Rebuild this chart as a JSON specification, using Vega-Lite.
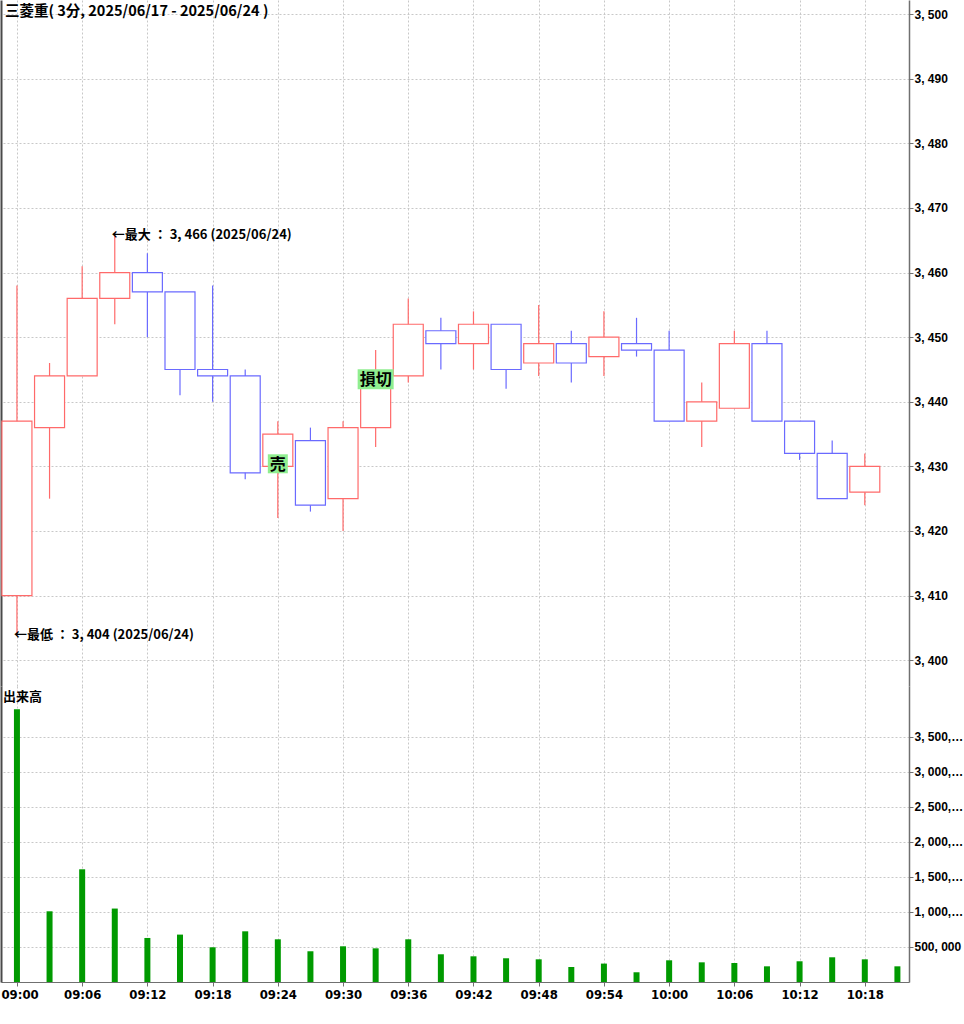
{
  "$schema": "https://vega.github.io/schema/vega-lite/v6.json",
  "padding": 0,
  "spacing": 0,
  "background": "white",
  "config": {
    "view": {"stroke": null},
    "concat": {"spacing": 0},
    "axis": {
      "gridColor": "#c8c8c8",
      "gridDash": [2, 2],
      "gridWidth": 1,
      "domainColor": "#707070",
      "tickColor": "#707070",
      "labelColor": "#000000",
      "labelFontWeight": "bold"
    }
  },
  "datasets": {
    "candles": [
      {"t": "2025-06-24T09:00", "open": 3410, "high": 3458, "low": 3404, "close": 3437},
      {"t": "2025-06-24T09:03", "open": 3436, "high": 3446, "low": 3425, "close": 3444},
      {"t": "2025-06-24T09:06", "open": 3444, "high": 3461, "low": 3444, "close": 3456},
      {"t": "2025-06-24T09:09", "open": 3456, "high": 3466, "low": 3452, "close": 3460},
      {"t": "2025-06-24T09:12", "open": 3460, "high": 3463, "low": 3450, "close": 3457},
      {"t": "2025-06-24T09:15", "open": 3457, "high": 3457, "low": 3441, "close": 3445},
      {"t": "2025-06-24T09:18", "open": 3445, "high": 3458, "low": 3440, "close": 3444},
      {"t": "2025-06-24T09:21", "open": 3444, "high": 3445, "low": 3428, "close": 3429},
      {"t": "2025-06-24T09:24", "open": 3430, "high": 3437, "low": 3422, "close": 3435},
      {"t": "2025-06-24T09:27", "open": 3434, "high": 3436, "low": 3423, "close": 3424},
      {"t": "2025-06-24T09:30", "open": 3425, "high": 3437, "low": 3420, "close": 3436},
      {"t": "2025-06-24T09:33", "open": 3436, "high": 3448, "low": 3433, "close": 3444},
      {"t": "2025-06-24T09:36", "open": 3444, "high": 3456, "low": 3443, "close": 3452},
      {"t": "2025-06-24T09:39", "open": 3451, "high": 3453, "low": 3445, "close": 3449},
      {"t": "2025-06-24T09:42", "open": 3449, "high": 3454, "low": 3445, "close": 3452},
      {"t": "2025-06-24T09:45", "open": 3452, "high": 3452, "low": 3442, "close": 3445},
      {"t": "2025-06-24T09:48", "open": 3446, "high": 3455, "low": 3444, "close": 3449},
      {"t": "2025-06-24T09:51", "open": 3449, "high": 3451, "low": 3443, "close": 3446},
      {"t": "2025-06-24T09:54", "open": 3447, "high": 3454, "low": 3444, "close": 3450},
      {"t": "2025-06-24T09:57", "open": 3449, "high": 3453, "low": 3447, "close": 3448},
      {"t": "2025-06-24T10:00", "open": 3448, "high": 3451, "low": 3437, "close": 3437},
      {"t": "2025-06-24T10:03", "open": 3437, "high": 3443, "low": 3433, "close": 3440},
      {"t": "2025-06-24T10:06", "open": 3439, "high": 3451, "low": 3439, "close": 3449},
      {"t": "2025-06-24T10:09", "open": 3449, "high": 3451, "low": 3437, "close": 3437},
      {"t": "2025-06-24T10:12", "open": 3437, "high": 3437, "low": 3431, "close": 3432},
      {"t": "2025-06-24T10:15", "open": 3432, "high": 3434, "low": 3425, "close": 3425},
      {"t": "2025-06-24T10:18", "open": 3426, "high": 3432, "low": 3424, "close": 3430}
    ],
    "volume": [
      {"t": "2025-06-24T09:00", "volume": 3896000},
      {"t": "2025-06-24T09:03", "volume": 1010000},
      {"t": "2025-06-24T09:06", "volume": 1610000},
      {"t": "2025-06-24T09:09", "volume": 1049000},
      {"t": "2025-06-24T09:12", "volume": 629000},
      {"t": "2025-06-24T09:15", "volume": 677000},
      {"t": "2025-06-24T09:18", "volume": 496000},
      {"t": "2025-06-24T09:21", "volume": 724000},
      {"t": "2025-06-24T09:24", "volume": 610000},
      {"t": "2025-06-24T09:27", "volume": 439000},
      {"t": "2025-06-24T09:30", "volume": 510000},
      {"t": "2025-06-24T09:33", "volume": 481000},
      {"t": "2025-06-24T09:36", "volume": 610000},
      {"t": "2025-06-24T09:39", "volume": 396000},
      {"t": "2025-06-24T09:42", "volume": 367000},
      {"t": "2025-06-24T09:45", "volume": 339000},
      {"t": "2025-06-24T09:48", "volume": 324000},
      {"t": "2025-06-24T09:51", "volume": 214000},
      {"t": "2025-06-24T09:54", "volume": 263000},
      {"t": "2025-06-24T09:57", "volume": 139000},
      {"t": "2025-06-24T10:00", "volume": 310000},
      {"t": "2025-06-24T10:03", "volume": 281000},
      {"t": "2025-06-24T10:06", "volume": 271000},
      {"t": "2025-06-24T10:09", "volume": 224000},
      {"t": "2025-06-24T10:12", "volume": 296000},
      {"t": "2025-06-24T10:15", "volume": 353000},
      {"t": "2025-06-24T10:18", "volume": 324000},
      {"t": "2025-06-24T10:21", "volume": 224000}
    ],
    "notes": [
      {"t": "2025-06-24T09:09", "price": 3466, "label": "←最大 ： 3, 466 (2025/06/24)"},
      {"t": "2025-06-24T09:00", "price": 3404, "label": "←最低 ： 3, 404 (2025/06/24)"}
    ],
    "signals": [
      {"t": "2025-06-24T09:24", "price": 3430.4, "label": "売"},
      {"t": "2025-06-24T09:33", "price": 3443.5, "label": "損切"}
    ],
    "titles": [
      {"t": "2025-06-24T08:58:54", "price": 3500.4, "label": "三菱重( 3分, 2025/06/17 - 2025/06/24 )"}
    ],
    "voltitle": [
      {"t": "2025-06-24T08:58:43", "volume": 4067000, "label": "出来高"}
    ]
  },
  "resolve": {"scale": {"x": "independent", "y": "independent"}},
  "vconcat": [
    {
      "width": 908,
      "height": 686,
      "layer": [
        {
          "data": {"name": "candles"},
          "mark": {"type": "rule", "strokeWidth": 1.2},
          "encoding": {
            "x": {
              "field": "t", "type": "temporal",
              "scale": {"domain": [
                {"year": 2025, "month": 6, "date": 24, "hours": 8, "minutes": 58, "seconds": 32},
                {"year": 2025, "month": 6, "date": 24, "hours": 10, "minutes": 22, "seconds": 4}
              ], "padding": 0, "nice": false},
              "axis": {"grid": true, "labels": false, "ticks": false, "domain": false, "title": null,
                       "values": [
                         {"year": 2025, "month": 6, "date": 24, "hours": 9, "minutes": 0},
                         {"year": 2025, "month": 6, "date": 24, "hours": 9, "minutes": 6},
                         {"year": 2025, "month": 6, "date": 24, "hours": 9, "minutes": 12},
                         {"year": 2025, "month": 6, "date": 24, "hours": 9, "minutes": 18},
                         {"year": 2025, "month": 6, "date": 24, "hours": 9, "minutes": 24},
                         {"year": 2025, "month": 6, "date": 24, "hours": 9, "minutes": 30},
                         {"year": 2025, "month": 6, "date": 24, "hours": 9, "minutes": 36},
                         {"year": 2025, "month": 6, "date": 24, "hours": 9, "minutes": 42},
                         {"year": 2025, "month": 6, "date": 24, "hours": 9, "minutes": 48},
                         {"year": 2025, "month": 6, "date": 24, "hours": 9, "minutes": 54},
                         {"year": 2025, "month": 6, "date": 24, "hours": 10, "minutes": 0},
                         {"year": 2025, "month": 6, "date": 24, "hours": 10, "minutes": 6},
                         {"year": 2025, "month": 6, "date": 24, "hours": 10, "minutes": 12},
                         {"year": 2025, "month": 6, "date": 24, "hours": 10, "minutes": 18}
                       ]}
            },
            "y": {
              "field": "low", "type": "quantitative",
              "scale": {"domain": [3396, 3502.2], "nice": false, "zero": false},
              "axis": {"orient": "right", "title": null,
                       "values": [3400, 3410, 3420, 3430, 3440, 3450, 3460, 3470, 3480, 3490, 3500],
                       "labelExpr": "replace(format(datum.value, ','), ',', ', ')",
                       "labelFont": "Liberation Sans", "labelFontSize": 12, "labelPadding": 1,
                       "tickSize": 4, "domainWidth": 1.5, "grid": true}
            },
            "y2": {"field": "high"},
            "color": {"condition": {"test": "datum.close >= datum.open", "value": "#ff6a6a"}, "value": "#6a6aff"}
          }
        },
        {
          "data": {"name": "candles"},
          "mark": {"type": "bar", "size": 30, "fill": "white", "strokeWidth": 1.2},
          "encoding": {
            "x": {"field": "t", "type": "temporal"},
            "y": {"field": "open", "type": "quantitative", "axis": null},
            "y2": {"field": "close"},
            "stroke": {"condition": {"test": "datum.close >= datum.open", "value": "#ff6a6a"}, "value": "#6a6aff"}
          }
        },
        {
          "data": {"name": "notes"},
          "mark": {"type": "text", "align": "left", "baseline": "middle", "dx": -3, "dy": 1,
                   "font": "Noto Sans CJK JP", "fontSize": 13, "fontWeight": "bold", "color": "#000000"},
          "encoding": {
            "x": {"field": "t", "type": "temporal"},
            "y": {"field": "price", "type": "quantitative",
                  "axis": {"orient": "left", "labels": false, "ticks": false, "grid": false, "title": null,
                           "domain": true, "domainColor": "#4a4a4a", "domainWidth": 2}},
            "text": {"field": "label"}
          }
        },
        {
          "data": {"name": "signals"},
          "mark": {"type": "point", "filled": true, "fill": "#90ee90", "opacity": 1, "strokeWidth": 0},
          "encoding": {
            "x": {"field": "t", "type": "temporal"},
            "y": {"field": "price", "type": "quantitative", "axis": null},
            "shape": {"field": "label", "type": "nominal", "legend": null,
                      "scale": {"domain": ["売", "損切"],
                                "range": ["M-1,-0.95L1,-0.95L1,0.95L-1,0.95Z", "M-1,-0.556L1,-0.556L1,0.556L-1,0.556Z"]}},
            "size": {"field": "label", "type": "ordinal", "legend": null,
                     "scale": {"domain": ["売", "損切"], "range": [400, 1296]}}
          }
        },
        {
          "data": {"name": "signals"},
          "mark": {"type": "text", "align": "center", "baseline": "middle", "dy": 1,
                   "font": "Noto Sans CJK JP", "fontSize": 16, "fontWeight": "bold", "color": "#000000"},
          "encoding": {
            "x": {"field": "t", "type": "temporal"},
            "y": {"field": "price", "type": "quantitative", "axis": null},
            "text": {"field": "label"}
          }
        },
        {
          "data": {"name": "titles"},
          "mark": {"type": "text", "align": "left", "baseline": "middle",
                   "font": "Noto Sans CJK JP", "fontSize": 14.5, "fontWeight": "bold", "color": "#000000"},
          "encoding": {
            "x": {"field": "t", "type": "temporal"},
            "y": {"field": "price", "type": "quantitative", "axis": null},
            "text": {"field": "label"}
          }
        }
      ]
    },
    {
      "width": 908,
      "height": 296,
      "layer": [
        {
          "data": {"name": "volume"},
          "mark": {"type": "bar", "size": 6, "color": "#009a00"},
          "encoding": {
            "x": {
              "field": "t", "type": "temporal",
              "scale": {"domain": [
                {"year": 2025, "month": 6, "date": 24, "hours": 8, "minutes": 58, "seconds": 32},
                {"year": 2025, "month": 6, "date": 24, "hours": 10, "minutes": 22, "seconds": 4}
              ], "padding": 0, "nice": false},
              "axis": {"orient": "bottom", "title": null, "format": "%H:%M", "grid": true,
                       "values": [
                         {"year": 2025, "month": 6, "date": 24, "hours": 9, "minutes": 0},
                         {"year": 2025, "month": 6, "date": 24, "hours": 9, "minutes": 6},
                         {"year": 2025, "month": 6, "date": 24, "hours": 9, "minutes": 12},
                         {"year": 2025, "month": 6, "date": 24, "hours": 9, "minutes": 18},
                         {"year": 2025, "month": 6, "date": 24, "hours": 9, "minutes": 24},
                         {"year": 2025, "month": 6, "date": 24, "hours": 9, "minutes": 30},
                         {"year": 2025, "month": 6, "date": 24, "hours": 9, "minutes": 36},
                         {"year": 2025, "month": 6, "date": 24, "hours": 9, "minutes": 42},
                         {"year": 2025, "month": 6, "date": 24, "hours": 9, "minutes": 48},
                         {"year": 2025, "month": 6, "date": 24, "hours": 9, "minutes": 54},
                         {"year": 2025, "month": 6, "date": 24, "hours": 10, "minutes": 0},
                         {"year": 2025, "month": 6, "date": 24, "hours": 10, "minutes": 6},
                         {"year": 2025, "month": 6, "date": 24, "hours": 10, "minutes": 12},
                         {"year": 2025, "month": 6, "date": 24, "hours": 10, "minutes": 18}
                       ],
                       "labelFont": "DejaVu Sans Condensed", "labelFontSize": 13, "labelPadding": 2,
                       "tickSize": 4, "domainWidth": 1.2, "labelOverlap": false,
                       "labelFlush": 20, "labelFlushOffset": 16}
            },
            "y": {
              "field": "volume", "type": "quantitative",
              "scale": {"domain": [0, 4228000], "nice": false},
              "axis": {"orient": "right", "title": null,
                       "values": [500000, 1000000, 1500000, 2000000, 2500000, 3000000, 3500000],
                       "labelExpr": "replace(format(datum.value, ','), regexp(',', 'g'), ', ')",
                       "labelFont": "Liberation Sans", "labelFontSize": 12, "labelPadding": 1,
                       "labelLimit": 52, "tickSize": 4, "domainWidth": 1.5, "grid": true}
            }
          }
        },
        {
          "data": {"name": "voltitle"},
          "mark": {"type": "text", "align": "left", "baseline": "middle",
                   "font": "Noto Sans CJK JP", "fontSize": 13, "fontWeight": "bold", "color": "#000000"},
          "encoding": {
            "x": {"field": "t", "type": "temporal"},
            "y": {"field": "volume", "type": "quantitative",
                  "axis": {"orient": "left", "labels": false, "ticks": false, "grid": false, "title": null,
                           "domain": true, "domainColor": "#4a4a4a", "domainWidth": 2}},
            "text": {"field": "label"}
          }
        }
      ]
    }
  ]
}
